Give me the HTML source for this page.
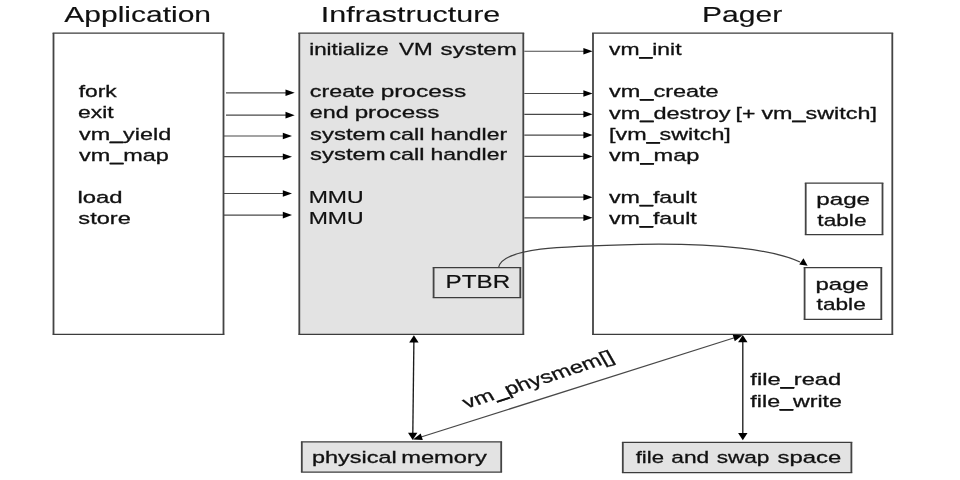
<!DOCTYPE html>
<html><head><meta charset="utf-8"><title>VM diagram</title>
<style>
html,body{margin:0;padding:0;background:#fff;}
svg{display:block;will-change:transform;filter:blur(0.45px);}
text{font-family:"Liberation Sans",sans-serif;}
</style></head><body>
<svg width="960" height="480" viewBox="0 0 960 480">
<rect x="0" y="0" width="960" height="480" fill="#fff"/>
<rect x="53.5" y="33.1" width="170.00" height="301.30" fill="#fff"/>
<path d="M52.6,33.1H224.4M52.6,334.4H224.4" stroke="#3c3c3c" stroke-width="1.25" fill="none"/>
<path d="M53.5,33.1V334.4M223.5,33.1V334.4" stroke="#444" stroke-width="1.8" fill="none"/>
<rect x="299.3" y="33.1" width="224.00" height="301.30" fill="#e3e3e3"/>
<path d="M298.40000000000003,33.1H524.1999999999999M298.40000000000003,334.4H524.1999999999999" stroke="#3c3c3c" stroke-width="1.25" fill="none"/>
<path d="M299.3,33.1V334.4M523.3,33.1V334.4" stroke="#444" stroke-width="1.8" fill="none"/>
<rect x="593" y="33.1" width="299.30" height="301.30" fill="#fff"/>
<path d="M592.1,33.1H893.1999999999999M592.1,334.4H893.1999999999999" stroke="#3c3c3c" stroke-width="1.25" fill="none"/>
<path d="M593,33.1V334.4M892.3,33.1V334.4" stroke="#444" stroke-width="1.8" fill="none"/>
<rect x="433.6" y="267.5" width="86.70" height="30.10" fill="#e3e3e3"/>
<path d="M432.70000000000005,267.5H521.1999999999999M432.70000000000005,297.6H521.1999999999999" stroke="#3c3c3c" stroke-width="1.25" fill="none"/>
<path d="M433.6,267.5V297.6M520.3,267.5V297.6" stroke="#444" stroke-width="1.8" fill="none"/>
<rect x="805.7" y="183" width="76.80" height="51.50" fill="#fff"/>
<path d="M804.8000000000001,183H883.4M804.8000000000001,234.5H883.4" stroke="#3c3c3c" stroke-width="1.25" fill="none"/>
<path d="M805.7,183V234.5M882.5,183V234.5" stroke="#444" stroke-width="1.8" fill="none"/>
<rect x="804.6" y="267.5" width="76.70" height="51.90" fill="#fff"/>
<path d="M803.7,267.5H882.1999999999999M803.7,319.4H882.1999999999999" stroke="#3c3c3c" stroke-width="1.25" fill="none"/>
<path d="M804.6,267.5V319.4M881.3,267.5V319.4" stroke="#444" stroke-width="1.8" fill="none"/>
<rect x="301.8" y="441.8" width="199.40" height="30.20" fill="#e3e3e3"/>
<path d="M300.90000000000003,441.8H502.09999999999997M300.90000000000003,472H502.09999999999997" stroke="#3c3c3c" stroke-width="1.25" fill="none"/>
<path d="M301.8,441.8V472M501.2,441.8V472" stroke="#444" stroke-width="1.8" fill="none"/>
<rect x="622.8" y="442.3" width="228.60" height="30.20" fill="#e3e3e3"/>
<path d="M621.9,442.3H852.3M621.9,472.5H852.3" stroke="#3c3c3c" stroke-width="1.25" fill="none"/>
<path d="M622.8,442.3V472.5M851.4,442.3V472.5" stroke="#444" stroke-width="1.8" fill="none"/>
<text transform="translate(64.30,21.90) scale(1.3633,1)" font-size="22" fill="#111" stroke="#111" stroke-width="0.15">Application</text>
<text transform="translate(320.86,21.90) scale(1.3849,1)" font-size="22" fill="#111" stroke="#111" stroke-width="0.15">Infrastructure</text>
<text transform="translate(702.10,21.90) scale(1.3642,1)" font-size="22" fill="#111" stroke="#111" stroke-width="0.15">Pager</text>
<text transform="translate(78.72,97.40) scale(1.3242,1)" font-size="17.2" fill="#111" stroke="#111" stroke-width="0.3">fork</text>
<text transform="translate(78.03,118.40) scale(1.3293,1)" font-size="17.2" fill="#111" stroke="#111" stroke-width="0.3">exit</text>
<text transform="translate(78.95,139.65) scale(1.3596,1)" font-size="17.2" fill="#111" stroke="#111" stroke-width="0.3">vm_yield</text>
<line x1="109.66" y1="142.18" x2="123.46" y2="142.18" stroke="#111" stroke-width="1.7"/>
<text transform="translate(78.95,160.90) scale(1.3617,1)" font-size="17.2" fill="#111" stroke="#111" stroke-width="0.3">vm_map</text>
<line x1="109.71" y1="163.43" x2="123.52" y2="163.43" stroke="#111" stroke-width="1.7"/>
<text transform="translate(77.41,203.40) scale(1.3867,1)" font-size="17.2" fill="#111" stroke="#111" stroke-width="0.3">load</text>
<text transform="translate(78.37,224.15) scale(1.3703,1)" font-size="17.2" fill="#111" stroke="#111" stroke-width="0.3">store</text>
<text transform="translate(309.24,54.90) scale(1.2991,1)" font-size="17.2" fill="#111" stroke="#111" stroke-width="0.3">initialize</text>
<text transform="translate(399.10,54.90) scale(1.3066,1)" font-size="17.2" fill="#111" stroke="#111" stroke-width="0.3">VM</text>
<text transform="translate(440.61,54.90) scale(1.3988,1)" font-size="17.2" fill="#111" stroke="#111" stroke-width="0.3">system</text>
<text transform="translate(309.87,97.40) scale(1.3520,1)" font-size="17.2" fill="#111" stroke="#111" stroke-width="0.3">create</text>
<text transform="translate(380.65,97.40) scale(1.4196,1)" font-size="17.2" fill="#111" stroke="#111" stroke-width="0.3">process</text>
<text transform="translate(309.87,118.40) scale(1.3537,1)" font-size="17.2" fill="#111" stroke="#111" stroke-width="0.3">end</text>
<text transform="translate(354.66,118.40) scale(1.4068,1)" font-size="17.2" fill="#111" stroke="#111" stroke-width="0.3">process</text>
<text transform="translate(310.11,139.65) scale(1.3894,1)" font-size="17.2" fill="#111" stroke="#111" stroke-width="0.3">system</text>
<text transform="translate(389.27,139.65) scale(1.3654,1)" font-size="17.2" fill="#111" stroke="#111" stroke-width="0.3">call</text>
<text transform="translate(430.46,139.65) scale(1.3357,1)" font-size="17.2" fill="#111" stroke="#111" stroke-width="0.3">handler</text>
<text transform="translate(310.11,160.40) scale(1.3894,1)" font-size="17.2" fill="#111" stroke="#111" stroke-width="0.3">system</text>
<text transform="translate(389.27,160.40) scale(1.3654,1)" font-size="17.2" fill="#111" stroke="#111" stroke-width="0.3">call</text>
<text transform="translate(430.46,160.40) scale(1.3357,1)" font-size="17.2" fill="#111" stroke="#111" stroke-width="0.3">handler</text>
<text transform="translate(308.69,202.70) scale(1.3377,1)" font-size="17.2" fill="#111" stroke="#111" stroke-width="0.2">MMU</text>
<text transform="translate(308.69,223.50) scale(1.3377,1)" font-size="17.2" fill="#111" stroke="#111" stroke-width="0.2">MMU</text>
<text transform="translate(445.59,288.30) scale(1.3163,1)" font-size="18.4" fill="#111" stroke="#111" stroke-width="0.2">PTBR</text>
<text transform="translate(609.00,55.40) scale(1.3329,1)" font-size="17.2" fill="#111" stroke="#111" stroke-width="0.3">vm_init</text>
<line x1="639.10" y1="57.93" x2="652.63" y2="57.93" stroke="#111" stroke-width="1.7"/>
<text transform="translate(609.01,97.40) scale(1.3669,1)" font-size="17.2" fill="#111" stroke="#111" stroke-width="0.3">vm_create</text>
<line x1="639.87" y1="99.93" x2="653.75" y2="99.93" stroke="#111" stroke-width="1.7"/>
<text transform="translate(609.01,118.70) scale(1.3672,1)" font-size="17.2" fill="#111" stroke="#111" stroke-width="0.3">vm_destroy</text>
<line x1="639.88" y1="121.23" x2="653.76" y2="121.23" stroke="#111" stroke-width="1.7"/>
<text transform="translate(735.59,118.70) scale(1.3383,1)" font-size="17.2" fill="#111" stroke="#111" stroke-width="0.3">[+</text>
<text transform="translate(761.45,118.70) scale(1.3570,1)" font-size="17.2" fill="#111" stroke="#111" stroke-width="0.3">vm_switch]</text>
<line x1="792.10" y1="121.23" x2="805.87" y2="121.23" stroke="#111" stroke-width="1.7"/>
<text transform="translate(609.07,140.40) scale(1.3559,1)" font-size="17.2" fill="#111" stroke="#111" stroke-width="0.3">[vm_switch]</text>
<line x1="646.17" y1="142.93" x2="659.93" y2="142.93" stroke="#111" stroke-width="1.7"/>
<text transform="translate(609.01,161.40) scale(1.3723,1)" font-size="17.2" fill="#111" stroke="#111" stroke-width="0.3">vm_map</text>
<line x1="640.00" y1="163.93" x2="653.92" y2="163.93" stroke="#111" stroke-width="1.7"/>
<text transform="translate(609.00,203.10) scale(1.3516,1)" font-size="17.2" fill="#111" stroke="#111" stroke-width="0.3">vm_fault</text>
<line x1="639.53" y1="205.63" x2="653.24" y2="205.63" stroke="#111" stroke-width="1.7"/>
<text transform="translate(609.00,224.40) scale(1.3516,1)" font-size="17.2" fill="#111" stroke="#111" stroke-width="0.3">vm_fault</text>
<line x1="639.53" y1="226.93" x2="653.24" y2="226.93" stroke="#111" stroke-width="1.7"/>
<text transform="translate(816.26,204.90) scale(1.4054,1)" font-size="17.2" fill="#111" stroke="#111" stroke-width="0.3">page</text>
<text transform="translate(817.36,225.90) scale(1.3172,1)" font-size="17.2" fill="#111" stroke="#111" stroke-width="0.3">table</text>
<text transform="translate(815.52,289.65) scale(1.3918,1)" font-size="17.2" fill="#111" stroke="#111" stroke-width="0.3">page</text>
<text transform="translate(816.61,310.40) scale(1.3172,1)" font-size="17.2" fill="#111" stroke="#111" stroke-width="0.3">table</text>
<text transform="translate(312.05,463.20) scale(1.3631,1)" font-size="17.2" fill="#111" stroke="#111" stroke-width="0.3">physical</text>
<text transform="translate(401.17,463.20) scale(1.3785,1)" font-size="17.2" fill="#111" stroke="#111" stroke-width="0.3">memory</text>
<text transform="translate(635.72,462.90) scale(1.2846,1)" font-size="17.2" fill="#111" stroke="#111" stroke-width="0.3">file</text>
<text transform="translate(671.29,462.90) scale(1.3207,1)" font-size="17.2" fill="#111" stroke="#111" stroke-width="0.3">and</text>
<text transform="translate(716.63,462.90) scale(1.3163,1)" font-size="17.2" fill="#111" stroke="#111" stroke-width="0.3">swap</text>
<text transform="translate(777.61,462.90) scale(1.3871,1)" font-size="17.2" fill="#111" stroke="#111" stroke-width="0.3">space</text>
<text transform="translate(750.37,385.40) scale(1.3773,1)" font-size="17.2" fill="#111" stroke="#111" stroke-width="0.3">file_read</text>
<line x1="780.18" y1="387.93" x2="794.16" y2="387.93" stroke="#111" stroke-width="1.7"/>
<text transform="translate(750.37,407.40) scale(1.3502,1)" font-size="17.2" fill="#111" stroke="#111" stroke-width="0.3">file_write</text>
<line x1="779.59" y1="409.93" x2="793.29" y2="409.93" stroke="#111" stroke-width="1.7"/>
<line x1="226" y1="92.8" x2="286.5" y2="92.8" stroke="#484848" stroke-width="1.2"/>
<polygon points="294.7,92.8 285.5,89.5 285.5,96.1" fill="#000"/>
<line x1="226" y1="115.15" x2="286.5" y2="115.15" stroke="#484848" stroke-width="1.2"/>
<polygon points="294.7,115.15 285.5,111.85000000000001 285.5,118.45" fill="#000"/>
<line x1="224" y1="136" x2="283.8" y2="136" stroke="#484848" stroke-width="1.2"/>
<polygon points="292,136 282.8,132.7 282.8,139.3" fill="#000"/>
<line x1="224" y1="156.7" x2="283.8" y2="156.7" stroke="#484848" stroke-width="1.2"/>
<polygon points="292,156.7 282.8,153.39999999999998 282.8,160.0" fill="#000"/>
<line x1="224" y1="193.5" x2="283.8" y2="193.5" stroke="#484848" stroke-width="1.2"/>
<polygon points="292,193.5 282.8,190.2 282.8,196.8" fill="#000"/>
<line x1="224" y1="215.1" x2="283.8" y2="215.1" stroke="#484848" stroke-width="1.2"/>
<polygon points="292,215.1 282.8,211.79999999999998 282.8,218.4" fill="#000"/>
<line x1="524.3" y1="51.25" x2="584.4" y2="51.25" stroke="#484848" stroke-width="1.2"/>
<polygon points="592.6,51.25 583.4,47.95 583.4,54.55" fill="#000"/>
<line x1="524.3" y1="93.5" x2="584.4" y2="93.5" stroke="#484848" stroke-width="1.2"/>
<polygon points="592.6,93.5 583.4,90.2 583.4,96.8" fill="#000"/>
<line x1="524.3" y1="114.3" x2="584.4" y2="114.3" stroke="#484848" stroke-width="1.2"/>
<polygon points="592.6,114.3 583.4,111.0 583.4,117.6" fill="#000"/>
<line x1="524.3" y1="135.1" x2="584.4" y2="135.1" stroke="#484848" stroke-width="1.2"/>
<polygon points="592.6,135.1 583.4,131.79999999999998 583.4,138.4" fill="#000"/>
<line x1="524.3" y1="156.4" x2="584.4" y2="156.4" stroke="#484848" stroke-width="1.2"/>
<polygon points="592.6,156.4 583.4,153.1 583.4,159.70000000000002" fill="#000"/>
<line x1="524.3" y1="197.2" x2="584.4" y2="197.2" stroke="#484848" stroke-width="1.2"/>
<polygon points="592.6,197.2 583.4,193.89999999999998 583.4,200.5" fill="#000"/>
<line x1="524.3" y1="217.8" x2="584.4" y2="217.8" stroke="#484848" stroke-width="1.2"/>
<polygon points="592.6,217.8 583.4,214.5 583.4,221.10000000000002" fill="#000"/>
<line x1="413.9" y1="340" x2="412.8" y2="435" stroke="#1c1c1c" stroke-width="1.35"/>
<polygon points="413.9,335.3 409.2,342.5 418.59999999999997,342.5" fill="#000"/>
<polygon points="412.7,439.9 408.0,432.7 417.4,432.7" fill="#000"/>
<line x1="742.8" y1="340" x2="742.8" y2="435" stroke="#1c1c1c" stroke-width="1.35"/>
<polygon points="742.8,335 738.0999999999999,342.2 747.5,342.2" fill="#000"/>
<polygon points="742.8,440.3 738.0999999999999,433.1 747.5,433.1" fill="#000"/>
<line x1="418.72" y1="437.79" x2="736.78" y2="337.01" stroke="#484848" stroke-width="1.2"/>
<polygon points="742.50,335.20 734.76,341.22 732.70,334.74" fill="#000"/>
<polygon points="413.00,439.60 420.74,433.58 422.80,440.06" fill="#000"/>
<g transform="translate(466.6,408.8) scale(1.333,1) rotate(-23.29) scale(1.045,1)"><text font-size="17.2" fill="#111" stroke="#111" stroke-width="0.3">vm_physmem[]</text><line x1="22.58" y1="2.53" x2="32.73" y2="2.53" stroke="#111" stroke-width="1.6"/></g>
<path d="M498.6,267.5 C502,248 560,246 640,244.3 C720,243 775,250 800,262" fill="none" stroke="#404040" stroke-width="1.3"/>
<polygon points="807.60,265.70 799.25,264.40 803.47,258.32" fill="#000"/>
</svg>
</body></html>
